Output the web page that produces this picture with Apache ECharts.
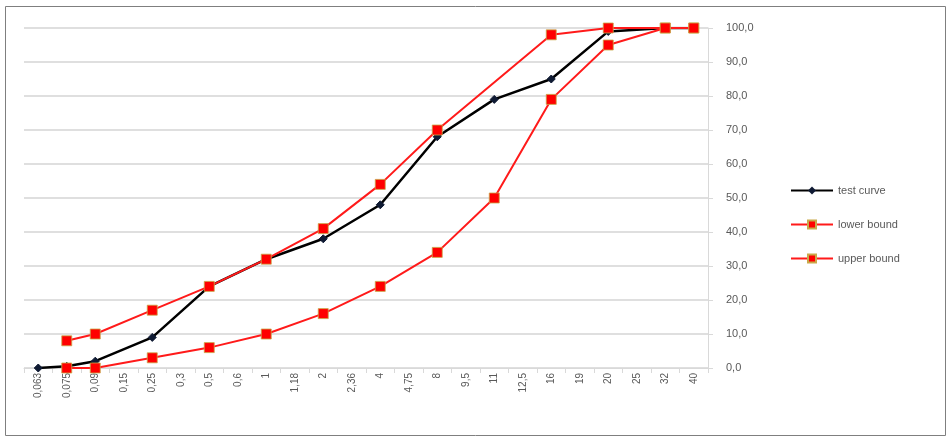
<!DOCTYPE html>
<html>
<head>
<meta charset="utf-8">
<script src="https://cdn.jsdelivr.net/npm/echarts@6/dist/echarts.min.js"></script>
<style>
html,body{margin:0;padding:0;background:#fff;}
#c{width:946px;height:436px;}
</style>
</head>
<body>
<div id="c"></div>
<script>
const categories = ["0,063","0,075","0,09","0,15","0,25","0,3","0,5","0,6","1","1,18","2","2,36","4","4,75","8","9,5","11","12,5","16","19","20","25","32","40"];
const testCurve  = [0, 0.5, 2, null, 9, null, 24, null, 32, null, 38, null, 48, null, 68, null, 79, null, 85, null, 99, null, 100, 100];
const lowerBound = [null, 0, 0, null, 3, null, 6, null, 10, null, 16, null, 24, null, 34, null, 50, null, 79, null, 95, null, 100, 100];
const upperBound = [null, 8, 10, null, 17, null, 24, null, 32, null, 41, null, 54, null, 70, null, null, null, 98, null, 100, null, 100, 100];
const seriesNames = ["test curve", "lower bound", "upper bound"];

const chart = echarts.init(document.getElementById('c'), null, {renderer: 'canvas'});
const redSeries = (name, data) => ({
  name, type: 'line', data, connectNulls: true,
  symbol: 'rect', symbolSize: 10,
  lineStyle: {color: '#ff1a1a', width: 2},
  itemStyle: {color: '#ff0000', borderColor: '#c9a94a', borderWidth: 0.8}
});
chart.setOption({
  animation: false,
  backgroundColor: '#fff',
  graphic: [{
    type: 'rect', shape: {x: 5.5, y: 6.5, width: 940, height: 429},
    style: {fill: 'none', stroke: '#7f7f7f', lineWidth: 1}, silent: true, z: -1
  }],
  grid: {left: 24, right: 238, top: 28, bottom: 68},
  legend: {
    orient: 'vertical', left: 785, top: 180, itemWidth: 42, itemHeight: 10, itemGap: 23,
    textStyle: {color: '#595959', fontSize: 11, fontFamily: 'Liberation Sans, Arial'},
    data: seriesNames
  },
  xAxis: {
    type: 'category', data: categories, boundaryGap: true,
    axisLine: {lineStyle: {color: '#d9d9d9', width: 1}},
    axisTick: {show: true, lineStyle: {color: '#d9d9d9'}},
    axisLabel: {rotate: 90, interval: 0, color: '#595959', fontSize: 10, margin: 5, fontFamily: 'Liberation Sans, Arial'}
  },
  yAxis: {
    type: 'value', position: 'right', min: 0, max: 100, interval: 10,
    axisLine: {show: true, lineStyle: {color: '#d9d9d9'}},
    axisTick: {show: true, length: 5, lineStyle: {color: '#d9d9d9'}},
    splitLine: {lineStyle: {color: '#d4d4d4', width: 1.5}},
    axisLabel: {color: '#595959', fontSize: 11, margin: 18, fontFamily: 'Liberation Sans, Arial',
      formatter: v => v.toFixed(1).replace('.', ',')}
  },
  series: [
    {
      name: seriesNames[0], type: 'line', data: testCurve, connectNulls: true,
      symbol: 'diamond', symbolSize: 8,
      lineStyle: {color: '#000000', width: 2.5},
      itemStyle: {color: '#0f1a33', borderColor: '#0f1a33'}
    },
    redSeries(seriesNames[1], lowerBound),
    redSeries(seriesNames[2], upperBound)
  ]
});
</script>
</body>
</html>
